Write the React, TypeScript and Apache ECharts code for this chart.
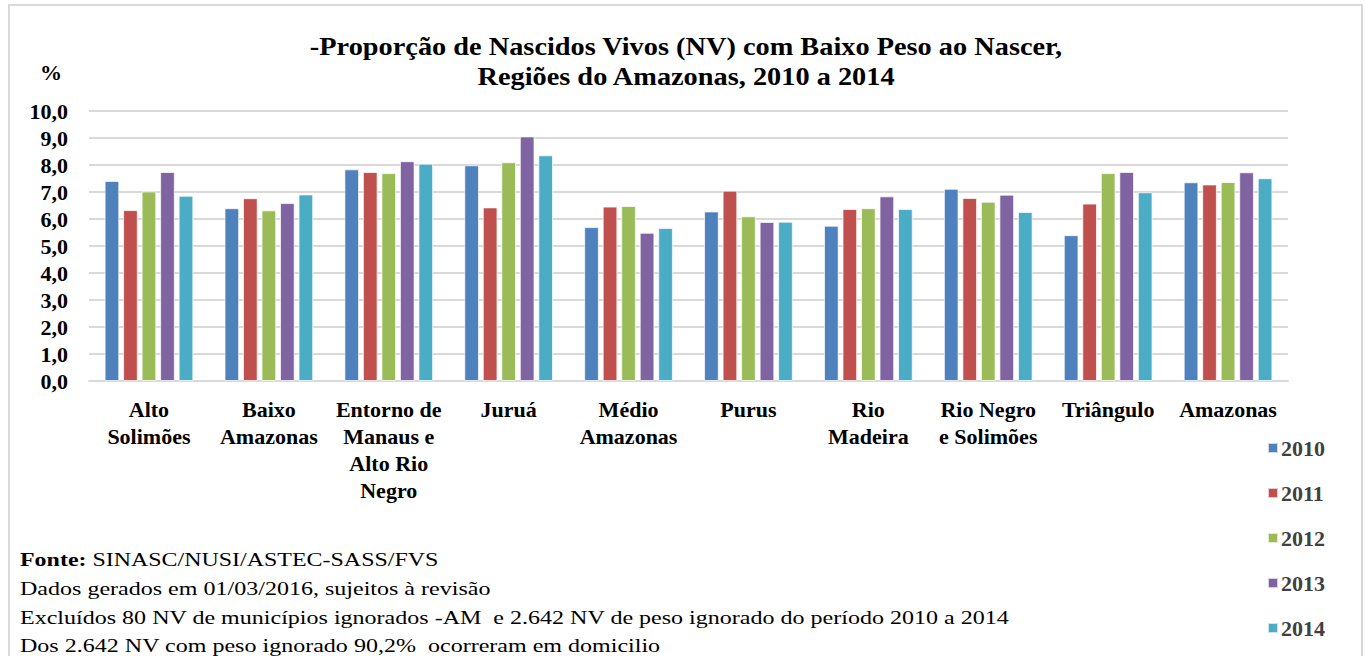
import React, { useEffect, useRef } from "react";
import * as echarts from "echarts";

const categories = [
  "Alto\nSolimões",
  "Baixo\nAmazonas",
  "Entorno de\nManaus e\nAlto Rio\nNegro",
  "Juruá",
  "Médio\nAmazonas",
  "Purus",
  "Rio\nMadeira",
  "Rio Negro\ne Solimões",
  "Triângulo",
  "Amazonas",
];

const years = ["2010", "2011", "2012", "2013", "2014"];
const colors = ["#4F81BD", "#C0504D", "#9BBB59", "#8064A2", "#4BACC6"];

const v2010 = [7.41, 6.4, 7.84, 7.99, 5.7, 6.28, 5.75, 7.12, 5.4, 7.36];
const v2011 = [6.33, 6.77, 7.74, 6.43, 6.46, 7.05, 6.37, 6.78, 6.57, 7.28];
const v2012 = [7.02, 6.32, 7.7, 8.1, 6.48, 6.1, 6.4, 6.64, 7.7, 7.37];
const v2013 = [7.74, 6.59, 8.14, 9.06, 5.49, 5.89, 6.84, 6.9, 7.74, 7.73];
const v2014 = [6.86, 6.91, 8.05, 8.36, 5.67, 5.9, 6.37, 6.26, 6.99, 7.51];
const seriesValues = [v2010, v2011, v2012, v2013, v2014];

const titleLines = [
  "-Proporção de Nascidos Vivos (NV) com Baixo Peso ao Nascer,",
  "Regiões do Amazonas, 2010 a 2014",
];
const footnotes = [
  "Dados gerados em 01/03/2016, sujeitos à revisão",
  "Excluídos 80 NV de municípios ignorados -AM  e 2.642 NV de peso ignorado do período 2010 a 2014",
  "Dos 2.642 NV com peso ignorado 90,2%  ocorreram em domicilio",
];

const FONT = "'Liberation Serif', 'Times New Roman', serif";

export default function App() {
  const ref = useRef<HTMLDivElement>(null);

  useEffect(() => {
    if (!ref.current) return;
    const chart = echarts.init(ref.current, null, { renderer: "svg" });
    chart.setOption({
      animation: false,
      backgroundColor: "#ffffff",
      textStyle: { fontFamily: FONT },
      legend: {
        orient: "vertical",
        left: 1262,
        top: 432,
        itemWidth: 10,
        itemHeight: 10,
        itemGap: 23,
        icon: "rect",
        textStyle: {
          fontFamily: FONT,
          fontWeight: "bold",
          fontSize: 22,
          color: "#404040",
          padding: [0, 0, 0, -2],
        },
        data: years,
      },
      grid: { left: 89, right: 77, top: 111, bottom: 275, containLabel: false },
      xAxis: {
        type: "category",
        data: categories,
        axisLine: { show: true, lineStyle: { color: "#d9d9d9", width: 2 } },
        axisTick: { show: false },
        axisLabel: {
          interval: 0,
          margin: 15,
          fontFamily: FONT,
          fontWeight: "bold",
          fontSize: 22,
          lineHeight: 27,
          color: "#000",
        },
      },
      yAxis: {
        type: "value",
        min: 0,
        max: 10,
        interval: 1,
        axisLine: { show: false },
        axisTick: { show: false },
        splitLine: { lineStyle: { color: "#d9d9d9", width: 2 } },
        axisLabel: {
          margin: 21,
          fontFamily: FONT,
          fontWeight: "bold",
          fontSize: 22,
          color: "#000",
          formatter: (v: number) => v.toFixed(1).replace(".", ","),
        },
      },
      series: years.map((y, i) => ({
        name: y,
        type: "bar",
        data: seriesValues[i],
        barGap: "26%",
        barCategoryGap: "26%",
        itemStyle: {
          color: colors[i],
          borderColor: "rgba(255,255,255,0.7)",
          borderWidth: 1,
        },
      })),
      graphic: [
        {
          type: "rect",
          shape: { x: 9, y: 5, width: 1353, height: 680 },
          style: { fill: "none", stroke: "#d9d9d9", lineWidth: 2 },
          silent: true,
        },
        ...titleLines.map((t, i) => ({
          type: "text",
          x: 686,
          y: 46 + i * 30,
          scaleX: 1.09,
          style: {
            text: t,
            fontFamily: FONT,
            fontWeight: "bold",
            fontSize: 26,
            fill: "#000",
            align: "center",
            verticalAlign: "middle",
          },
        })),
        {
          type: "text",
          x: 40,
          y: 61,
          style: {
            text: "%",
            fontFamily: FONT,
            fontWeight: "bold",
            fontSize: 22,
            fill: "#000",
          },
        },
        {
          type: "text",
          x: 20,
          y: 560,
          scaleX: 1.26,
          style: {
            text: "{b|Fonte:} SINASC/NUSI/ASTEC-SASS/FVS",
            fontFamily: FONT,
            fontSize: 19,
            fill: "#000",
            verticalAlign: "middle",
            rich: {
              b: { fontFamily: FONT, fontSize: 19, fontWeight: "bold", fill: "#000" },
            },
          },
        },
        ...footnotes.map((t, i) => ({
          type: "text",
          x: 20,
          y: 589 + i * 28.5,
          scaleX: 1.265,
          style: {
            text: t,
            fontFamily: FONT,
            fontSize: 19,
            fill: "#000",
            verticalAlign: "middle",
          },
        })),
      ],
    });
    return () => chart.dispose();
  }, []);

  return (
    <div
      ref={ref}
      style={{ position: "fixed", left: 0, top: 0, width: 1365, height: 656 }}
    />
  );
}
